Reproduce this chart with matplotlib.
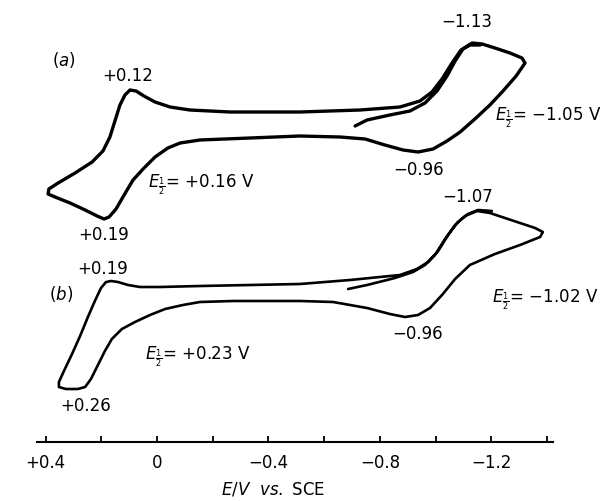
import matplotlib
matplotlib.use("Agg")
import matplotlib.pyplot as plt
import numpy as np

plt.rcParams['font.family'] = ['DejaVu Sans']
plt.rcParams['mathtext.fontset'] = 'dejavusans'

# ---- data: potential (V vs. SCE) and current (arbitrary units) ----
# trace (a): start tail -> cathodic sweep -> reverse -> anodic sweep -> second cathodic sweep
E_a = [-0.711, -0.754, -0.836, -0.908, -0.962, -1.005, -1.041, -1.070, -1.098, -1.131,
       -1.167, -1.213, -1.267, -1.310, -1.321,
       -1.289, -1.242, -1.195, -1.141, -1.088, -1.041, -0.991, -0.937, -0.883, -0.818,
       -0.747, -0.657, -0.513, -0.334, -0.154, -0.083, -0.039, 0.007, 0.050, 0.086,
       0.118, 0.147, 0.172, 0.190, 0.215, 0.258, 0.312, 0.366, 0.391,
       0.388, 0.355, 0.294, 0.233, 0.194, 0.169, 0.151, 0.133, 0.115, 0.097,
       0.075, 0.047, 0.007, -0.047, -0.118, -0.262, -0.513, -0.729, -0.872, -0.944,
       -0.987, -1.023, -1.059, -1.091, -1.123, -1.160]
I_a = [0.3, 0.9, 1.4, 1.8, 2.6, 3.8, 5.3, 6.8, 8.0, 8.6,
       8.5, 8.1, 7.6, 7.1, 6.6,
       5.3, 3.8, 2.4, 1.0, -0.3, -1.2, -2.0, -2.3, -2.1, -1.6,
       -1.0, -0.8, -0.7, -0.9, -1.1, -1.4, -1.9, -2.8, -4.0, -5.1,
       -6.6, -8.0, -8.8, -9.0, -8.7, -8.1, -7.4, -6.8, -6.5,
       -6.0, -5.4, -4.4, -3.3, -2.2, -0.8, 0.8, 2.4, 3.4, 3.9,
       3.8, 3.3, 2.7, 2.2, 1.9, 1.7, 1.7, 1.9, 2.2, 2.8,
       3.7, 5.0, 6.6, 7.9, 8.4, 8.4]

# trace (b)
E_b = [-0.686, -0.754, -0.854, -0.919, -0.962, -0.998, -1.034, -1.070, -1.106, -1.149,
       -1.195, -1.249, -1.303, -1.357, -1.385,
       -1.375, -1.303, -1.213, -1.123, -1.070, -1.023, -0.980, -0.937, -0.890, -0.836,
       -0.754, -0.632, -0.513, -0.273, -0.154, -0.093, -0.029, 0.025, 0.079, 0.126,
       0.162, 0.187, 0.212, 0.237, 0.258, 0.284, 0.327, 0.352,
       0.352, 0.334, 0.305, 0.276, 0.248, 0.223, 0.201, 0.183, 0.165, 0.140,
       0.104, 0.061, -0.011, -0.154, -0.334, -0.513, -0.693, -0.872, -0.933, -0.973,
       -1.009, -1.045, -1.080, -1.116, -1.152, -1.202]
I_b = [0.5, 0.9, 1.6, 2.2, 2.9, 3.9, 5.5, 6.9, 7.8, 8.3,
       8.1, 7.6, 7.1, 6.6, 6.2,
       5.7, 4.9, 4.0, 2.9, 1.5, -0.1, -1.4, -2.1, -2.3, -2.0,
       -1.4, -0.8, -0.7, -0.7, -0.8, -1.1, -1.5, -2.1, -2.8, -3.5,
       -4.5, -5.7, -7.1, -8.5, -9.3, -9.5, -9.5, -9.3,
       -8.8, -7.7, -6.0, -4.2, -2.3, -0.7, 0.6, 1.2, 1.3, 1.2,
       0.9, 0.7, 0.7, 0.8, 0.9, 1.0, 1.4, 1.9, 2.5, 3.2,
       4.3, 5.9, 7.2, 8.0, 8.4, 8.3]

tick_values = [0.4, 0.2, 0.0, -0.2, -0.4, -0.6, -0.8, -1.0, -1.2, -1.4]
tick_labels = ['+0.4', '', '0', '', '\u22120.4', '', '\u22120.8', '', '\u22121.2', '']

MINUS = '\u2212'
HALF_E = r'$E_{\frac{1}{2}}$'

fig = plt.figure(figsize=(6.14, 5.02), dpi=100)
ax = fig.add_axes([37/614, (502-443)/502, (553-37)/614, 443/502])
ax.set_xlim(0.4307, -1.4214)
ax.set_ylim(0, 44.3)

off_a, off_b = 31.3, 14.8

ax.plot(E_a, np.array(I_a) + off_a, color='black', lw=2.4, solid_joinstyle='round',
        solid_capstyle='round', clip_on=False)
ax.plot(E_b, np.array(I_b) + off_b, color='black', lw=1.9, solid_joinstyle='round',
        solid_capstyle='round', clip_on=False)

for s in ['top', 'right', 'left']:
    ax.spines[s].set_visible(False)
ax.spines['bottom'].set_linewidth(1.5)
ax.set_yticks([])
ax.set_xticks(tick_values)
ax.set_xticklabels(tick_labels)
ax.tick_params(axis='x', direction='in', length=4.5, width=1.3, pad=8, labelsize=12)

fs = 12
def T(x, y, s, **kw):
    ax.text(x, y, s, fontsize=fs, va='center', clip_on=False, **kw)

T(0.334, 38.3, '(' + r'$\mathit{a}$' + ')', ha='center')
T(0.104, 36.7, '+0.12', ha='center')
T(0.190, 20.8, '+0.19', ha='center')
T(0.032, 25.8, HALF_E + '= +0.16 V', ha='left')
T(-1.113, 42.1, MINUS + '1.13', ha='center')
T(-1.213, 32.5, HALF_E + '= ' + MINUS + '1.05 V', ha='left')
T(-0.940, 27.3, MINUS + '0.96', ha='center')
T(-1.116, 24.6, MINUS + '1.07', ha='center')
T(0.194, 17.4, '+0.19', ha='center')
T(0.345, 14.9, '(' + r'$\mathit{b}$' + ')', ha='center')
T(0.043, 8.6, HALF_E + '= +0.23 V', ha='left')
T(0.255, 3.7, '+0.26', ha='center')
T(-1.202, 14.3, HALF_E + '= ' + MINUS + '1.02 V', ha='left')
T(-0.937, 10.9, MINUS + '0.96', ha='center')

ax.text(-0.416, -4.7, r'$\mathit{E/V\ \ vs.}$ SCE', fontsize=fs, ha='center', va='center',
        clip_on=False)

fig.savefig('out.png', dpi=100)
